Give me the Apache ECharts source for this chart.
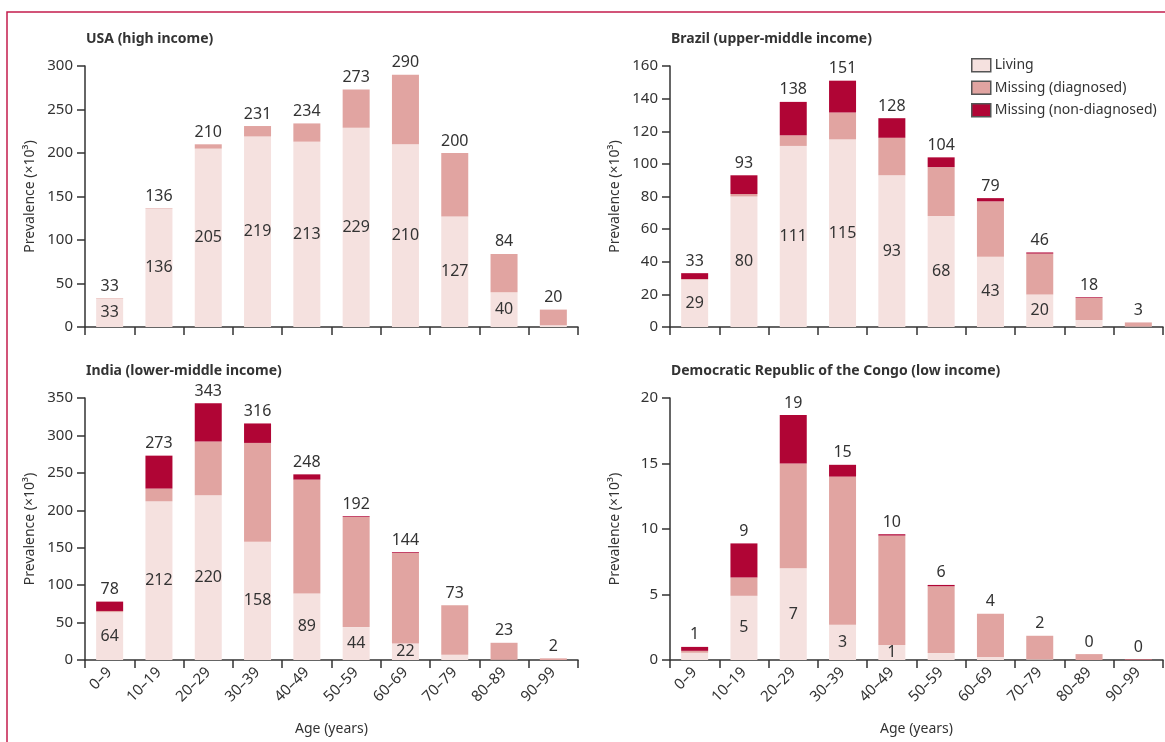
<!DOCTYPE html>
<html>
<head>
<meta charset="utf-8">
<script src="https://cdn.jsdelivr.net/npm/echarts@6/dist/echarts.min.js"></script>
<style>
  html, body { margin: 0; padding: 0; background: #fff; }
  #chart { width: 1165px; height: 742px; }
</style>
</head>
<body>
<div id="chart"></div>
<script>
// Age groups shared by all four panels
const ageGroups = ['0–9', '10–19', '20–29', '30–39', '40–49', '50–59', '60–69', '70–79', '80–89', '90–99'];

// Prevalence (×10³) per age group: living, missing (diagnosed), missing (non-diagnosed)
const usaLiving      = [32.8, 135.8, 205, 219, 213, 229, 210, 127, 40, 2];
const usaDiagnosed   = [0.5, 0.6, 5, 12, 21, 44, 80, 73, 44, 18];
const usaNonDiag     = [0, 0, 0, 0, 0, 0, 0, 0, 0, 0];

const brazilLiving    = [29, 80, 111, 115, 93, 68, 43, 20, 4.3, 0.3];
const brazilDiagnosed = [0.4, 1.5, 6.5, 16.5, 23, 30, 34, 25, 13.6, 2.5];
const brazilNonDiag   = [3.6, 11.5, 20.5, 19.5, 12, 6, 2, 0.7, 0.4, 0];

const indiaLiving    = [64, 212, 220, 158, 89, 44, 22, 7, 0.3, 0];
const indiaDiagnosed = [1.5, 17, 72, 132, 152, 147, 121, 66, 22.7, 2.2];
const indiaNonDiag   = [12.5, 44, 51, 26, 7, 1, 1, 0, 0, 0];

const drcLiving    = [0.55, 4.9, 7, 2.7, 1.15, 0.53, 0.23, 0.05, 0, 0];
const drcDiagnosed = [0.15, 1.4, 8, 11.3, 8.35, 5.1, 3.3, 1.8, 0.45, 0.05];
const drcNonDiag   = [0.3, 2.6, 3.7, 0.9, 0.1, 0.1, 0, 0, 0, 0.02];

// Y-axis scales per panel
const usaTicks    = { max: 300, interval: 50 };
const brazilTicks = { max: 160, interval: 20 };
const indiaTicks  = { max: 350, interval: 50 };
const drcTicks    = { max: 20,  interval: 5 };

const COLORS = { living: '#f5e1df', diagnosed: '#e1a4a1', nonDiag: '#b00535' };
const TEXT = '#333333';
const FONT = '"Noto Sans", "Open Sans", sans-serif';

const panels = [
  { title: 'USA (high income)', living: usaLiving, diag: usaDiagnosed, non: usaNonDiag, ticks: usaTicks,
    left: 85, top: 66, bottomRow: false },
  { title: 'Brazil (upper-middle income)', living: brazilLiving, diag: brazilDiagnosed, non: brazilNonDiag, ticks: brazilTicks,
    left: 670, top: 66, bottomRow: false },
  { title: 'India (lower-middle income)', living: indiaLiving, diag: indiaDiagnosed, non: indiaNonDiag, ticks: indiaTicks,
    left: 85, top: 398, bottomRow: true },
  { title: 'Democratic Republic of the Congo (low income)', living: drcLiving, diag: drcDiagnosed, non: drcNonDiag, ticks: drcTicks,
    left: 670, top: 398, bottomRow: true }
];

const GRID_W = 493;
const GRID_H = 261;

const grids = [], xAxes = [], yAxes = [], series = [], titles = [];

panels.forEach((p, i) => {
  grids.push({ left: p.left, top: p.top, width: GRID_W, height: p.bottomRow ? GRID_H + 1 : GRID_H });
  titles.push({
    text: p.title, left: p.left + 1, top: p.top - 34, padding: 0,
    textStyle: { fontFamily: FONT, fontSize: 14, fontWeight: 'bold', color: TEXT }
  });

  xAxes.push({
    type: 'category', gridIndex: i, data: ageGroups, boundaryGap: true,
    axisLine: { lineStyle: { color: TEXT, width: 1.5 } },
    axisTick: { show: true, length: 8, lineStyle: { color: TEXT, width: 1.5 } },
    axisLabel: p.bottomRow
      ? { show: true, rotate: 45, margin: 10, fontFamily: FONT, fontSize: 15, color: TEXT, interval: 0 }
      : { show: false },
    name: p.bottomRow ? 'Age (years)' : '',
    nameLocation: 'middle', nameGap: 62,
    nameTextStyle: { fontFamily: FONT, fontSize: 14, color: TEXT }
  });

  yAxes.push({
    type: 'value', gridIndex: i, min: 0, max: p.ticks.max, interval: p.ticks.interval,
    axisLine: { show: true, lineStyle: { color: TEXT, width: 1.5 } },
    axisTick: { show: true, length: 8, lineStyle: { color: TEXT, width: 1.5 } },
    splitLine: { show: false },
    axisLabel: { fontFamily: FONT, fontSize: 15, color: TEXT, margin: 12 },
    name: 'Prevalence (×10³)', nameLocation: 'middle', nameRotate: 90, nameGap: 48,
    nameTextStyle: { fontFamily: FONT, fontSize: 14, color: TEXT }
  });

  const stack = 'panel' + i;
  const totals = p.living.map((v, k) => v + p.diag[k] + p.non[k]);
  const labelStyle = { fontFamily: FONT, fontSize: 16, color: TEXT };

  series.push({
    name: 'Living', type: 'bar', stack, xAxisIndex: i, yAxisIndex: i,
    data: p.living, barWidth: 27,
    itemStyle: { color: COLORS.living },
    label: {
      show: true, position: 'inside', ...labelStyle,
      formatter: (d) => (d.value / p.ticks.max >= 0.045 ? String(Math.round(d.value)) : '')
    }
  });
  series.push({
    name: 'Missing (diagnosed)', type: 'bar', stack, xAxisIndex: i, yAxisIndex: i,
    data: p.diag, barWidth: 27,
    itemStyle: { color: COLORS.diagnosed }
  });
  series.push({
    name: 'Missing (non-diagnosed)', type: 'bar', stack, xAxisIndex: i, yAxisIndex: i,
    data: p.non, barWidth: 27,
    itemStyle: { color: COLORS.nonDiag }
  });
  // Zero-height bar on top of each stack carrying the total label
  series.push({
    name: 'total', type: 'bar', stack, xAxisIndex: i, yAxisIndex: i,
    data: totals.map(() => 0), barWidth: 27,
    itemStyle: { color: 'transparent' },
    label: {
      show: true, position: 'top', distance: 4, ...labelStyle,
      formatter: (d) => String(Math.round(totals[d.dataIndex]))
    },
    tooltip: { show: false }
  });
});

const chart = echarts.init(document.getElementById('chart'), null, { renderer: 'canvas' });
chart.setOption({
  animation: false,
  backgroundColor: '#ffffff',
  title: titles,
  grid: grids,
  xAxis: xAxes,
  yAxis: yAxes,
  series,
  legend: {
    data: ['Living', 'Missing (diagnosed)', 'Missing (non-diagnosed)'],
    orient: 'vertical', left: 966, top: 53, itemGap: 8, padding: 5,
    itemWidth: 19, itemHeight: 13, icon: 'rect',
    itemStyle: { borderColor: '#555555', borderWidth: 1.5 },
    textStyle: { fontFamily: FONT, fontSize: 14, color: TEXT, padding: [0, 0, 0, -1] },
    selectedMode: false
  },
  graphic: [{
    type: 'rect', silent: true,
    shape: { x: 7, y: 12, width: 1400, height: 900 },
    style: { fill: 'none', stroke: '#c41d4c', lineWidth: 1.5 }
  }]
});
</script>
</body>
</html>
